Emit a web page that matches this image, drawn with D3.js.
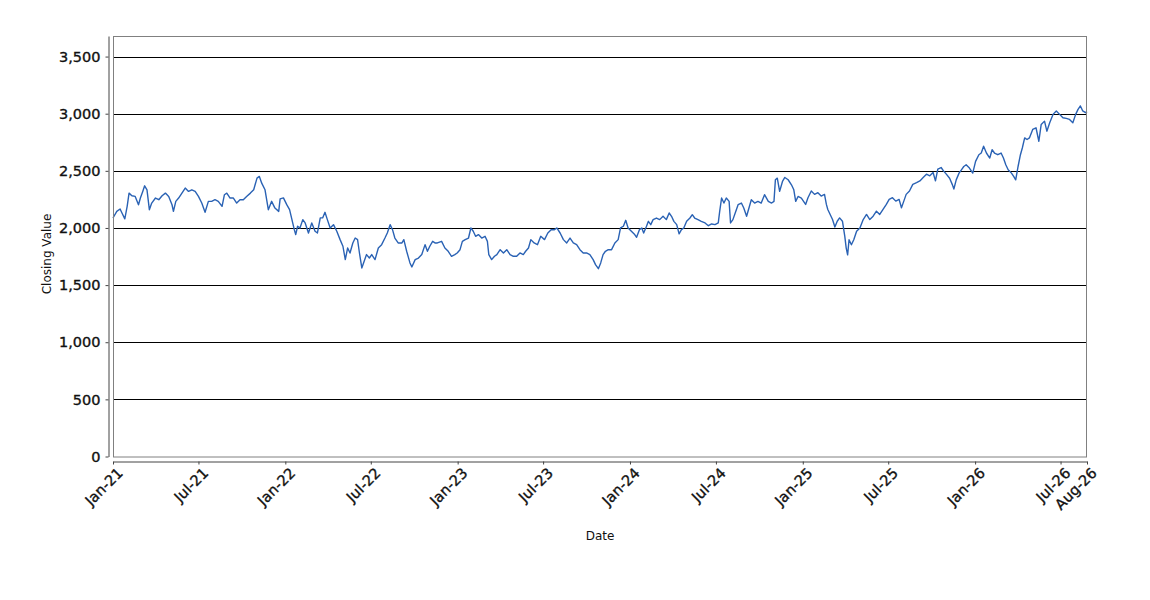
<!DOCTYPE html>
<html lang="en">
<head>
  <meta charset="UTF-8">
  <title>Closing Value</title>
  <script src="https://d3js.org/d3.v7.min.js"></script>
  <style>
    body {
      margin: 0;
      background: #ffffff;
      font-family: "DejaVu Sans", sans-serif;
    }

    svg {
      display: block;
    }

    .axis path,
    .axis line {
      stroke: #444444;
      stroke-width: 1px;
    }

    .axis text {
      font-family: "DejaVu Sans", sans-serif;
      font-size: 14.5px;
      fill: #111111;
      stroke: #111111;
      stroke-width: 0.35px;
    }

    .grid line {
      stroke: #000000;
      stroke-width: 1px;
    }

    .axis-title {
      font-family: "DejaVu Sans", sans-serif;
      font-size: 12px;
      fill: #111111;
    }
  </style>
</head>

<body>
  <div id="chart"></div>
  <script>
    // values, roughly one per week
    const dates = [
      "2021-01-01","2021-01-09","2021-01-16","2021-01-20","2021-01-26","2021-01-31","2021-02-04","2021-02-10","2021-02-17","2021-02-24",
      "2021-02-28","2021-03-05","2021-03-09","2021-03-14","2021-03-19","2021-03-24","2021-04-01","2021-04-08","2021-04-15","2021-04-22",
      "2021-04-29","2021-05-06","2021-05-09","2021-05-14","2021-05-20","2021-05-27","2021-06-03","2021-06-10","2021-06-17","2021-06-24",
      "2021-07-01","2021-07-08","2021-07-15","2021-07-22","2021-07-29","2021-08-05","2021-08-12","2021-08-20","2021-08-25","2021-08-30",
      "2021-09-06","2021-09-13","2021-09-20","2021-09-27","2021-10-04","2021-10-11","2021-10-19","2021-10-26","2021-11-02","2021-11-07",
      "2021-11-12","2021-11-19","2021-11-26","2021-12-03","2021-12-10","2021-12-18","2021-12-21","2021-12-28","2022-01-04","2022-01-10",
      "2022-01-15","2022-01-20","2022-01-23","2022-01-27","2022-02-01","2022-02-07","2022-02-12","2022-02-19","2022-02-26","2022-03-05",
      "2022-03-10","2022-03-16","2022-03-21","2022-03-26","2022-03-31","2022-04-06","2022-04-13","2022-04-20","2022-04-27","2022-05-03",
      "2022-05-08","2022-05-13","2022-05-18","2022-05-24","2022-05-29","2022-06-03","2022-06-07","2022-06-12","2022-06-17","2022-06-22",
      "2022-06-28","2022-07-03","2022-07-10","2022-07-17","2022-07-24","2022-07-31","2022-08-05","2022-08-11","2022-08-16","2022-08-21",
      "2022-08-28","2022-09-05","2022-09-09","2022-09-15","2022-09-22","2022-09-26","2022-10-03","2022-10-10","2022-10-17","2022-10-24",
      "2022-10-29","2022-11-03","2022-11-09","2022-11-14","2022-11-19","2022-11-28","2022-12-05","2022-12-12","2022-12-19","2022-12-26",
      "2022-12-31","2023-01-06","2023-01-11","2023-01-17","2023-01-24","2023-01-29","2023-02-03","2023-02-08","2023-02-14","2023-02-21",
      "2023-02-28","2023-03-05","2023-03-08","2023-03-14","2023-03-20","2023-03-25","2023-04-01","2023-04-08","2023-04-15","2023-04-22",
      "2023-04-29","2023-05-06","2023-05-13","2023-05-20","2023-05-25","2023-05-31","2023-06-05","2023-06-12","2023-06-19","2023-06-26",
      "2023-07-04","2023-07-11","2023-07-18","2023-07-25","2023-07-30","2023-08-06","2023-08-13","2023-08-20","2023-08-27","2023-09-03",
      "2023-09-10","2023-09-17","2023-09-24","2023-10-01","2023-10-08","2023-10-15","2023-10-20","2023-10-26","2023-10-31","2023-11-05",
      "2023-11-10","2023-11-16","2023-11-23","2023-11-30","2023-12-07","2023-12-12","2023-12-18","2023-12-23","2023-12-28","2024-01-04",
      "2024-01-11","2024-01-15","2024-01-21","2024-01-26","2024-01-30","2024-02-05","2024-02-09","2024-02-14","2024-02-19","2024-02-26",
      "2024-03-04","2024-03-11","2024-03-18","2024-03-24","2024-03-29","2024-04-03","2024-04-09","2024-04-14","2024-04-19","2024-04-24",
      "2024-04-30","2024-05-07","2024-05-12","2024-05-17","2024-05-24","2024-05-31","2024-06-08","2024-06-15","2024-06-22","2024-06-29",
      "2024-07-06","2024-07-09","2024-07-13","2024-07-18","2024-07-23","2024-07-29","2024-08-01","2024-08-06","2024-08-12","2024-08-17",
      "2024-08-24","2024-08-29","2024-09-04","2024-09-09","2024-09-14","2024-09-21","2024-09-28","2024-10-05","2024-10-12","2024-10-20",
      "2024-10-27","2024-11-01","2024-11-04","2024-11-08","2024-11-13","2024-11-19","2024-11-24","2024-12-01","2024-12-08","2024-12-13",
      "2024-12-17","2024-12-22","2024-12-29","2025-01-07","2025-01-12","2025-01-19","2025-01-26","2025-02-02","2025-02-09","2025-02-16",
      "2025-02-20","2025-02-23","2025-02-28","2025-03-05","2025-03-10","2025-03-15","2025-03-20","2025-03-26","2025-03-31","2025-04-03",
      "2025-04-06","2025-04-09","2025-04-14","2025-04-19","2025-04-25","2025-05-02","2025-05-09","2025-05-16","2025-05-23","2025-05-30",
      "2025-06-06","2025-06-13","2025-06-20","2025-06-27","2025-07-03","2025-07-10","2025-07-17","2025-07-24","2025-07-29","2025-08-03",
      "2025-08-08","2025-08-15","2025-08-22","2025-08-30","2025-09-06","2025-09-13","2025-09-20","2025-09-27","2025-10-04","2025-10-09",
      "2025-10-14","2025-10-21","2025-10-26","2025-11-01","2025-11-08","2025-11-14","2025-11-17","2025-11-22","2025-11-28","2025-12-03",
      "2025-12-08","2025-12-13","2025-12-20","2025-12-27","2026-01-02","2026-01-09","2026-01-14","2026-01-19","2026-01-25","2026-02-01",
      "2026-02-06","2026-02-11","2026-02-18","2026-02-25","2026-03-02","2026-03-07","2026-03-12","2026-03-19","2026-03-24","2026-03-28",
      "2026-04-02","2026-04-07","2026-04-11","2026-04-16","2026-04-21","2026-04-26","2026-05-03","2026-05-10","2026-05-16","2026-05-21",
      "2026-05-28","2026-06-02","2026-06-08","2026-06-15","2026-06-22","2026-06-29","2026-07-06","2026-07-13","2026-07-20","2026-07-27",
      "2026-08-02","2026-08-07","2026-08-12","2026-08-17","2026-08-23","2026-08-26"
    ];

    const closes = [
      2087,2145,2166,2131,2080,2189,2305,2282,2276,2203,
      2262,2320,2369,2334,2160,2218,2262,2247,2282,2305,
      2276,2203,2145,2233,2262,2305,2349,2320,2334,2320,
      2276,2218,2137,2233,2233,2247,2233,2189,2291,2305,
      2262,2262,2218,2247,2247,2276,2305,2334,2436,2451,
      2392,2334,2160,2233,2174,2145,2254,2263,2204,2160,
      2073,1985,1942,2015,2000,2073,2044,1956,2044,1971,
      1956,2088,2088,2137,2073,2000,2029,1971,1898,1840,
      1723,1825,1781,1869,1912,1898,1781,1650,1708,1767,
      1737,1767,1723,1825,1854,1912,1956,2029,1985,1912,
      1869,1869,1898,1796,1694,1659,1723,1737,1767,1854,
      1796,1840,1883,1869,1869,1883,1825,1796,1752,1767,
      1781,1810,1883,1898,1912,2000,1971,1927,1942,1912,
      1927,1883,1767,1723,1752,1767,1810,1781,1810,1767,
      1752,1752,1781,1767,1796,1825,1898,1869,1854,1927,
      1898,1956,1985,1985,2000,1956,1898,1869,1912,1869,
      1854,1810,1781,1781,1767,1723,1679,1644,1694,1767,
      1796,1810,1810,1869,1898,2000,2015,2067,2000,1971,
      1942,1919,1985,2000,1956,2015,2058,2029,2073,2087,
      2073,2102,2073,2131,2102,2058,2029,1948,1985,2000,
      2058,2087,2116,2087,2073,2058,2044,2020,2035,2029,
      2044,2145,2262,2218,2262,2233,2044,2073,2145,2204,
      2218,2175,2102,2175,2247,2218,2233,2218,2291,2233,
      2218,2233,2422,2436,2320,2407,2442,2422,2378,2334,
      2233,2276,2262,2206,2265,2324,2294,2309,2279,2294,
      2206,2162,2118,2074,2009,2059,2088,2059,1927,1824,
      1765,1897,1853,1897,1971,2000,2074,2118,2074,2103,
      2147,2118,2162,2206,2250,2265,2235,2250,2177,2235,
      2294,2324,2382,2397,2412,2441,2471,2456,2485,2412,
      2515,2529,2500,2471,2435,2377,2341,2421,2480,2509,
      2538,2553,2524,2480,2583,2641,2656,2715,2656,2612,
      2685,2656,2641,2656,2612,2553,2509,2480,2450,2421,
      2538,2641,2700,2788,2774,2788,2862,2877,2759,2906,
      2935,2847,2921,2994,3024,2994,2965,2959,2950,2921,
      2994,3038,3068,3024,3009,3018
    ];

    const xTicks = [
      "2021-01-01","2021-07-01","2022-01-01","2022-07-01","2023-01-01","2023-07-01",
      "2024-01-01","2024-07-01","2025-01-01","2025-07-01","2026-01-01","2026-07-01","2026-08-26"
    ];
    const yTicks = [0, 500, 1000, 1500, 2000, 2500, 3000, 3500];
    const yMax = 3680;

    const width = 1150,
          height = 600,
          plot = { left: 113, right: 1087, top: 36, bottom: 456.5 };

    const parse = d3.timeParse("%Y-%m-%d");
    const data = dates.map((d, i) => ({ date: parse(d), value: closes[i] }));

    const svg = d3.select("#chart")
      .append("svg")
      .attr("width", width)
      .attr("height", height);

    const x = d3.scaleTime()
      .domain([parse("2021-01-01"), parse("2026-08-26")])
      .range([plot.left, plot.right]);

    const y = d3.scaleLinear()
      .domain([0, yMax])
      .range([plot.bottom, plot.top]);

    // plot background + grid
    svg.append("rect")
      .attr("x", plot.left)
      .attr("y", plot.top)
      .attr("width", plot.right - plot.left)
      .attr("height", plot.bottom - plot.top)
      .attr("fill", "#ffffff");

    svg.append("g")
      .attr("class", "grid")
      .selectAll("line")
      .data(yTicks.filter(d => d > 0))
      .enter().append("line")
      .attr("x1", plot.left)
      .attr("x2", plot.right)
      .attr("y1", d => Math.round(y(d)) + 0.5)
      .attr("y2", d => Math.round(y(d)) + 0.5);

    // line
    const line = d3.line()
      .x(d => x(d.date))
      .y(d => y(d.value));

    svg.append("path")
      .datum(data)
      .attr("fill", "none")
      .attr("stroke", "#2a62b4")
      .attr("stroke-width", 1.4)
      .attr("stroke-linejoin", "round")
      .attr("d", line);

    // plot outline
    svg.append("rect")
      .attr("x", plot.left + 0.5)
      .attr("y", plot.top + 0.5)
      .attr("width", plot.right - plot.left - 1)
      .attr("height", plot.bottom - plot.top)
      .attr("fill", "none")
      .attr("stroke", "#808080")
      .attr("stroke-width", 1);

    // y axis, offset a little from the plot
    svg.append("g")
      .attr("class", "axis")
      .attr("transform", "translate(108.5,0)")
      .call(d3.axisLeft(y)
        .tickValues(yTicks)
        .tickSize(3)
        .tickSizeOuter(0)
        .tickPadding(5)
        .tickFormat(d3.format(",")));

    // x axis, offset a little below the plot
    const xAxis = svg.append("g")
      .attr("class", "axis")
      .attr("transform", "translate(0,461.5)")
      .call(d3.axisBottom(x)
        .tickValues(xTicks.map(parse))
        .tickSize(3)
        .tickSizeOuter(0)
        .tickFormat(d3.timeFormat("%b-%y")));

    xAxis.selectAll("text")
      .attr("text-anchor", "end")
      .attr("dy", null)
      .attr("y", 0)
      .attr("dominant-baseline", "hanging")
      .attr("transform", "translate(3,5) rotate(-45)");

    // axis titles
    svg.append("text")
      .attr("class", "axis-title")
      .attr("text-anchor", "middle")
      .attr("transform", "translate(51,254) rotate(-90)")
      .text("Closing Value");

    svg.append("text")
      .attr("class", "axis-title")
      .attr("text-anchor", "middle")
      .attr("x", (plot.left + plot.right) / 2)
      .attr("y", 540)
      .text("Date");
  </script>
</body>
</html>
